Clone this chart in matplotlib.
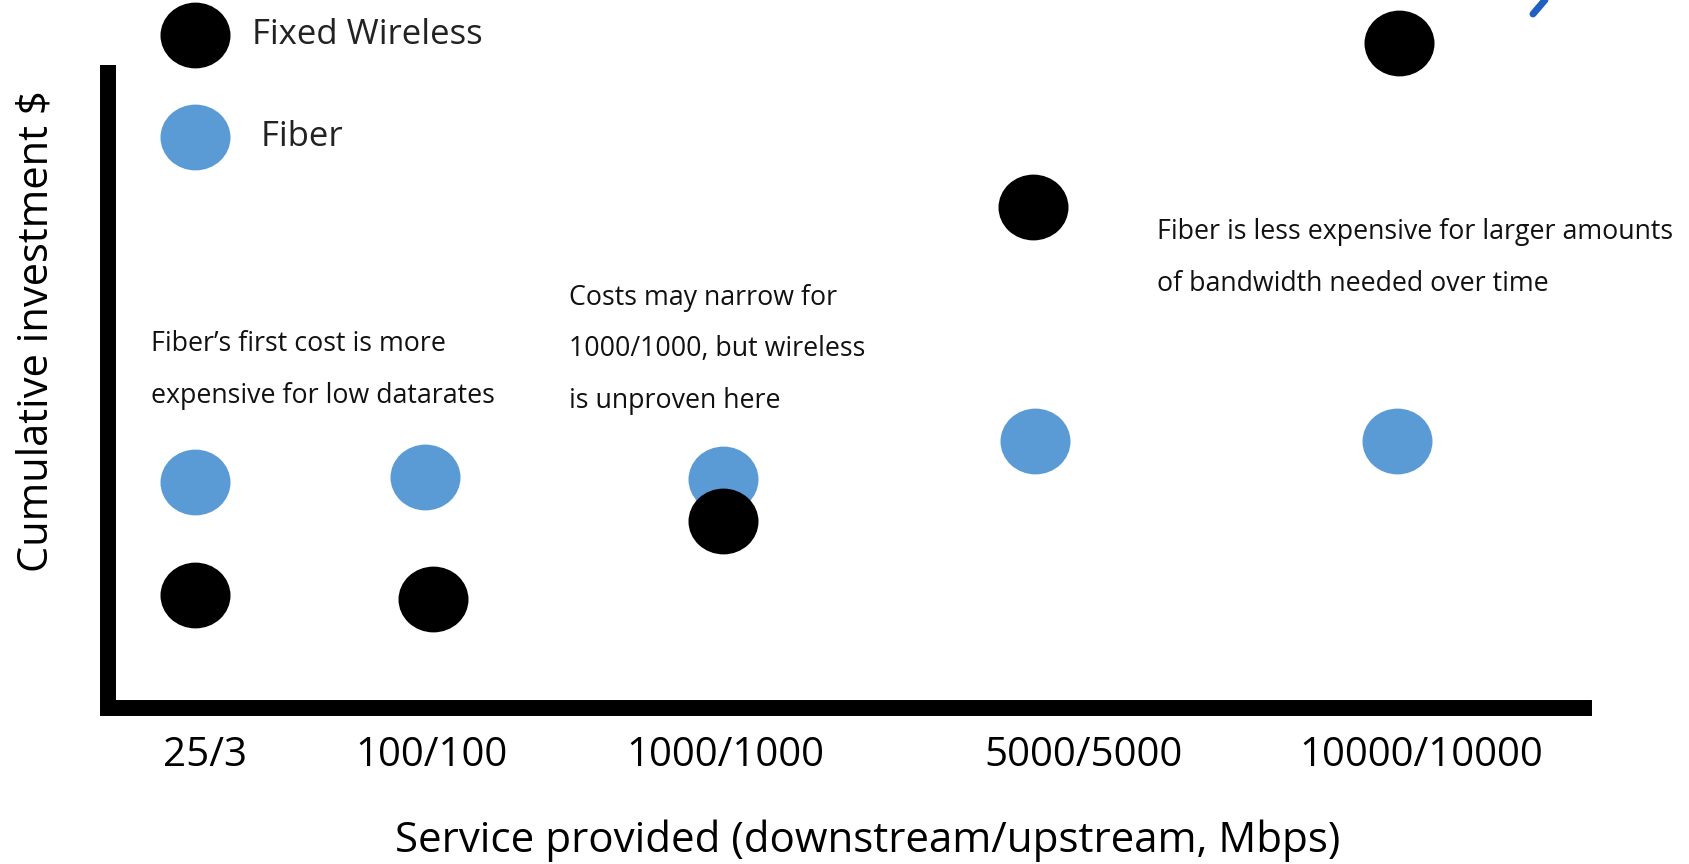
import matplotlib
matplotlib.use('Agg')
import matplotlib.pyplot as plt
from matplotlib.path import Path
from matplotlib.lines import Line2D

plt.rcParams['font.family'] = ['Open Sans', 'DejaVu Sans']

# service tiers (x axis) and where they sit along the axis
tiers = ["25/3", "100/100", "1000/1000", "5000/5000", "10000/10000"]
tier_pos = [6.6, 21.9, 41.8, 66.1, 89.0]

# cumulative investment, arbitrary units
wireless_x = [5.9, 22.0, 41.7, 62.7, 87.5]
wireless_y = [17.6, 17.0, 29.1, 77.9, 103.4]
fiber_x = [5.9, 21.5, 41.7, 62.8, 87.3]
fiber_y = [35.1, 35.9, 35.6, 41.5, 41.5]

notes = [
    (2.9, 52.6, "Fiber\u2019s first cost is more\nexpensive for low datarates"),
    (31.2, 55.8, "Costs may narrow for\n1000/1000, but wireless\nis unproven here"),
    (71.1, 70.0, "Fiber is less expensive for larger amounts\nof bandwidth needed over time"),
]

W, H = 1690, 864
fig = plt.figure(figsize=(W / 100, H / 100), dpi=100)
ax = fig.add_axes([108 / W, 1 - 708 / H, (1584 - 108) / W, (708 - 65) / H])
ax.set_xlim(0, 100)
ax.set_ylim(0, 100)

# slightly flattened circle marker
circ = Path.unit_circle()
oval = Path(circ.vertices * [1, 0.94], circ.codes)

ax.scatter(wireless_x, wireless_y, s=2540, marker=oval, color='black',
           linewidths=0, clip_on=False, zorder=3, label="Fixed Wireless")
ax.scatter(fiber_x, fiber_y, s=2540, marker=oval, color='#5B9BD5',
           linewidths=0, clip_on=False, zorder=2, label=" Fiber")

for s in ['top', 'right']:
    ax.spines[s].set_visible(False)
for s in ['left', 'bottom']:
    ax.spines[s].set_linewidth(11.5)
    ax.spines[s].set_color('black')
ax.spines['left'].set_capstyle('butt')

ax.set_yticks([])
ax.set_xticks(tier_pos, tiers)
ax.tick_params(axis='x', length=0, pad=19.5, labelsize=29)

for x, y, t in notes:
    ax.text(x, y, t, fontsize=19.3, va='center', ha='left', linespacing=2.12,
            color='#111111')

fig.text(868 / W, 1 - 841 / H, "Service provided (downstream/upstream, Mbps)",
         fontsize=30.3, ha='center', va='center')
fig.text(37 / W, 1 - 331 / H, "Cumulative investment $", fontsize=30,
         rotation=90, ha='center', va='center')

leg = ax.legend(loc='upper left', bbox_to_anchor=(150 / W, 1 - 7.5 / H),
                bbox_transform=fig.transFigure, frameon=False, fontsize=25,
                labelspacing=1.95, handletextpad=0.63, borderpad=0.3,
                borderaxespad=0)
for txt in leg.get_texts():
    txt.set_color('#222222')

# little blue stroke cut off at the top right corner
fig.add_artist(Line2D([1533 / W, 1545 / W], [1 - 14 / H, 1.0],
                      color='#2060C0', linewidth=5, solid_capstyle='round'))

fig.savefig('out.png', dpi=100)
